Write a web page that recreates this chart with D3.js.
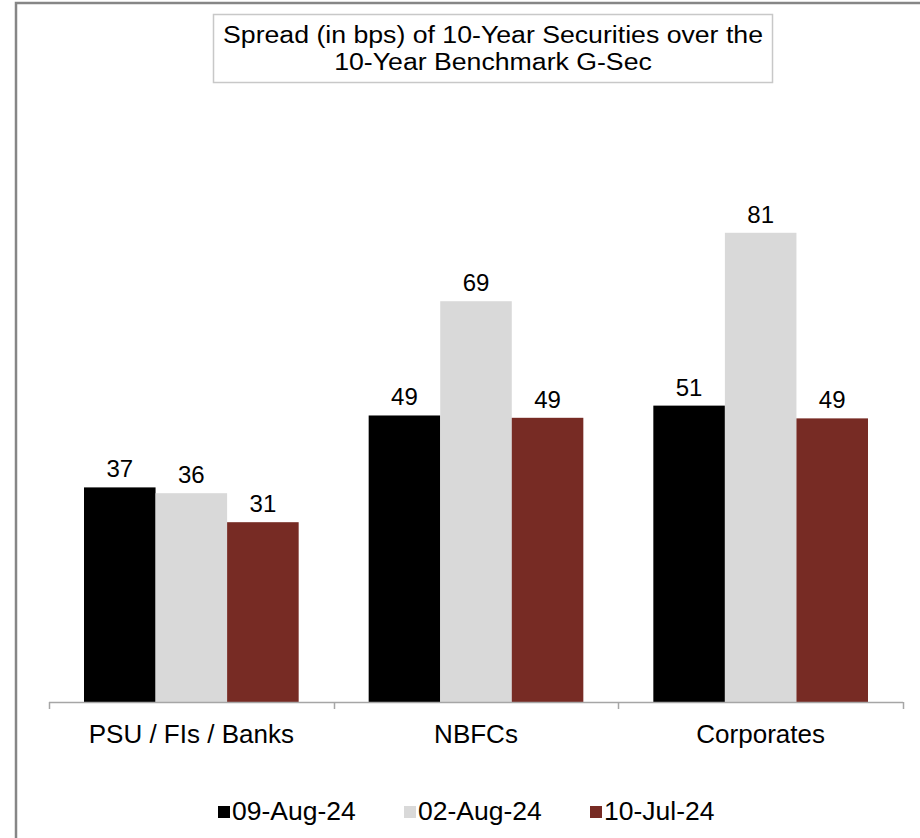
<!DOCTYPE html>
<html>
<head>
<meta charset="utf-8">
<script src="https://cdn.jsdelivr.net/npm/d3@7/dist/d3.min.js"></script>
<style>
  html, body { margin: 0; padding: 0; background: #fff; }
  svg { display: block; font-family: "Liberation Sans", Arial, sans-serif; }
</style>
</head>
<body>
<svg id="chart" width="920" height="838"></svg>
<script>
// Spread (bps) of 10-year securities over the benchmark G-Sec
const categories = ["PSU / FIs / Banks", "NBFCs", "Corporates"];
const seriesNames = ["09-Aug-24", "02-Aug-24", "10-Jul-24"];
const seriesColors = ["#000000", "#d9d9d9", "#772b24"];
const aug09 = [37.0, 49.4, 51.1];
const aug02 = [36.0, 69.1, 80.9];
const jul10 = [31.0, 49.0, 48.9];
const titleLines = ["Spread (in bps) of 10-Year Securities over the", "10-Year Benchmark G-Sec"];

const seriesValues = [aug09, aug02, jul10];

const svg = d3.select("#chart");
const W = 920, H = 838;

// outer frame (left and top edges only visible in the canvas)
svg.append("path")
  .attr("d", `M16,${H} L16,3 L${W},3`)
  .attr("fill", "none")
  .attr("stroke", "#868686")
  .attr("stroke-width", 2.5);

// title box
const tb = svg.append("g");
tb.append("rect")
  .attr("x", 213.5).attr("y", 14.5)
  .attr("width", 559).attr("height", 68)
  .attr("fill", "#fff")
  .attr("stroke", "#c8c8c8")
  .attr("stroke-width", 1.5);
tb.selectAll("text.title")
  .data(titleLines)
  .join("text")
  .attr("class", "title")
  .attr("transform", (d, i) => `translate(493,${43 + i * 27}) scale(1.16,1)`)
  .attr("text-anchor", "middle")
  .attr("font-size", 23)
  .attr("fill", "#000")
  .text(d => d);

// scales
const baseY = 702;
const x0 = d3.scaleBand().domain(categories).range([49, 903]).padding(0);
const inset = 35;
const x1 = d3.scaleBand().domain(seriesNames).range([inset, x0.bandwidth() - inset]).padding(0);
const y = d3.scaleLinear().domain([0, 100]).range([baseY, baseY - 580]);
const color = d3.scaleOrdinal().domain(seriesNames).range(seriesColors);
const fmt = d3.format(".0f");

const data = [];
categories.forEach((c, ci) => {
  seriesNames.forEach((s, si) => {
    data.push({ cat: c, series: s, value: seriesValues[si][ci] });
  });
});

// bars
svg.append("g")
  .selectAll("rect")
  .data(data)
  .join("rect")
  .attr("x", d => x0(d.cat) + x1(d.series))
  .attr("y", d => y(d.value))
  .attr("width", x1.bandwidth())
  .attr("height", d => baseY - y(d.value))
  .attr("fill", d => color(d.series));

// value labels
svg.append("g")
  .selectAll("text")
  .data(data)
  .join("text")
  .attr("x", d => x0(d.cat) + x1(d.series) + x1.bandwidth() / 2)
  .attr("y", d => y(d.value) - 10)
  .attr("text-anchor", "middle")
  .attr("font-size", 24)
  .attr("fill", "#000")
  .text(d => fmt(d.value));

// category axis: baseline with ticks on band boundaries
const axis = svg.append("g");
axis.append("line")
  .attr("x1", x0.range()[0]).attr("x2", x0.range()[1])
  .attr("y1", baseY + 0.5).attr("y2", baseY + 0.5)
  .attr("stroke", "#a6a6a6").attr("stroke-width", 1.5);
const edges = categories.map(c => x0(c)).concat([x0(categories[categories.length - 1]) + x0.bandwidth()]);
axis.selectAll("line.tick")
  .data(edges)
  .join("line")
  .attr("class", "tick")
  .attr("x1", d => Math.round(d) + 0.5).attr("x2", d => Math.round(d) + 0.5)
  .attr("y1", baseY).attr("y2", baseY + 7)
  .attr("stroke", "#a6a6a6").attr("stroke-width", 1.5);
axis.selectAll("text")
  .data(categories)
  .join("text")
  .attr("x", d => x0(d) + x0.bandwidth() / 2)
  .attr("y", 743)
  .attr("text-anchor", "middle")
  .attr("font-size", 26)
  .attr("fill", "#000")
  .text(d => d);

// legend
const legendX = [218, 404, 590];
const lg = svg.append("g")
  .selectAll("g")
  .data(seriesNames)
  .join("g")
  .attr("transform", (d, i) => `translate(${legendX[i]},806)`);
lg.append("rect")
  .attr("width", 12).attr("height", 12)
  .attr("fill", d => color(d));
lg.append("text")
  .attr("x", 14)
  .attr("y", 14)
  .attr("font-size", 26.5)
  .attr("fill", "#000")
  .text(d => d);
</script>
</body>
</html>
